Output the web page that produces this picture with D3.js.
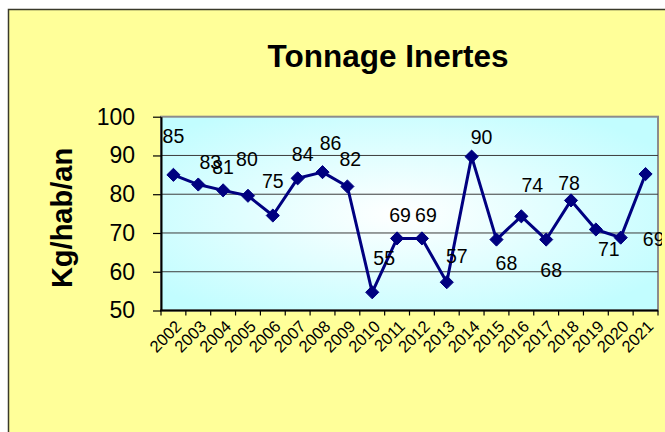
<!DOCTYPE html>
<html>
<head>
<meta charset="utf-8">
<script src="https://cdn.jsdelivr.net/npm/d3@7"></script>
<style>
	body{margin:0;background:#fff;}
	svg{display:block;font-family:"Liberation Sans", Arial, sans-serif;}
</style>
</head>
<body>
<svg id="chart" width="665" height="432"></svg>
<script>
// data
var years = ["2002","2003","2004","2005","2006","2007","2008","2009","2010","2011",
	"2012","2013","2014","2015","2016","2017","2018","2019","2020","2021"];
var tonnage = [85, 82.5, 81, 79.6, 74.5, 84.1, 85.7, 82, 54.7, 68.6,
	68.6, 57.3, 89.7, 68.3, 74.3, 68.3, 78.4, 70.9, 68.8, 85.2];
var pointLabels = ["85","83","81","80","75","84","86","82","55","69",
	"69","57","90","68","74","68","78","71","69",""];
var yTicks = [50, 60, 70, 80, 90, 100];

// where each label sits from its point (px), the labels were moved by hand in the original
var labelDx = [0, 12, 0, -1, 0, 5, 8, 3, 12, 3, 4, 10, 10, 10, 11, 5, -2, 13, 33, 0];
var labelDy = [-32, -16, -16, -30, -28, -17, -22, -20, -27, -16, -16, -19, -13, 30, -24, 37, -10, 27, 8, 0];

var svg = d3.select("#chart");
var plot = {left:161, right:658, top:116.7, bottom:310.5};

// chart area
svg.append("rect")
	.attr("x", 8.5).attr("y", 9.5)
	.attr("width", 700).attr("height", 500)
	.attr("fill", "#ffff99")
	.attr("stroke", "#3a3a2a")
	.attr("stroke-width", 1.5);

var defs = svg.append("defs");
var grad = defs.append("radialGradient")
	.attr("id", "plotFill")
	.attr("cx", "48%").attr("cy", "50%").attr("r", "62%");
grad.append("stop").attr("offset", "0%").attr("stop-color", "#ffffff");
grad.append("stop").attr("offset", "100%").attr("stop-color", "#c2fdff");
// the last label is cut at the chart edge in the original
defs.append("clipPath").attr("id", "edge")
	.append("rect").attr("x", 0).attr("y", 0).attr("width", 662).attr("height", 432);

var x = d3.scaleBand().domain(years).range([plot.left, plot.right]);
var y = d3.scaleLinear().domain([50, 100]).range([plot.bottom, plot.top]);

svg.append("rect")
	.attr("x", plot.left).attr("y", plot.top)
	.attr("width", plot.right - plot.left)
	.attr("height", plot.bottom - plot.top)
	.attr("fill", "url(#plotFill)")
	.attr("stroke", "#8c8c8c")
	.attr("stroke-width", 2);

// gridlines
svg.append("g").selectAll("line")
	.data(yTicks.filter(function(d){return d > 50 && d < 100;}))
	.enter().append("line")
	.attr("x1", plot.left).attr("x2", plot.right)
	.attr("y1", function(d){return y(d);})
	.attr("y2", function(d){return y(d);})
	.attr("stroke", "#3c3c3c")
	.attr("stroke-width", 1);

// y axis
var yAxis = svg.append("g")
	.attr("transform", "translate(" + plot.left + ",0)")
	.call(d3.axisLeft(y).tickValues(yTicks).tickSize(8).tickPadding(18).tickSizeOuter(0));
yAxis.select(".domain").attr("stroke", "#000").attr("stroke-width", 2);
yAxis.selectAll(".tick line").attr("stroke", "#000").attr("stroke-width", 1.2);
yAxis.selectAll("text")
	.attr("font-size", 23)
	.attr("fill", "#000")
	.attr("font-family", "Liberation Sans, Arial, sans-serif");

// x axis, ticks between the categories
var xAxis = svg.append("g")
	.attr("transform", "translate(0," + plot.bottom + ")");
xAxis.append("line")
	.attr("x1", plot.left - 1).attr("x2", plot.right)
	.attr("stroke", "#000").attr("stroke-width", 2);
xAxis.selectAll("line.tk")
	.data(years.concat(["end"]))
	.enter().append("line")
	.attr("class", "tk")
	.attr("x1", function(d, i){return plot.left + i * x.step();})
	.attr("x2", function(d, i){return plot.left + i * x.step();})
	.attr("y1", 0).attr("y2", 5)
	.attr("stroke", "#000").attr("stroke-width", 1.2);
xAxis.selectAll("text")
	.data(years)
	.enter().append("text")
	.attr("transform", function(d){
		return "translate(" + (x(d) + x.bandwidth() / 2 + 9) + ",17) rotate(-45)";
	})
	.attr("text-anchor", "end")
	.attr("font-size", 16.5)
	.attr("fill", "#000")
	.text(function(d){return d;});

// series
var pts = years.map(function(yr, i){
	return {year: yr, value: tonnage[i], label: pointLabels[i], dx: labelDx[i], dy: labelDy[i]};
});
var cx = function(d){return x(d.year) + x.bandwidth() / 2;};

svg.append("path")
	.datum(pts)
	.attr("fill", "none")
	.attr("stroke", "#000080")
	.attr("stroke-width", 3)
	.attr("stroke-linejoin", "round")
	.attr("d", d3.line().x(cx).y(function(d){return y(d.value);}));

svg.append("g").selectAll("path")
	.data(pts)
	.enter().append("path")
	.attr("transform", function(d){return "translate(" + cx(d) + "," + y(d.value) + ")";})
	.attr("d", d3.symbol().type(d3.symbolDiamond2).size(110))
	.attr("fill", "#000080")
	.attr("stroke", "#000080")
	.attr("stroke-width", 1);

svg.append("g")
	.attr("clip-path", "url(#edge)")
	.selectAll("text")
	.data(pts)
	.enter().append("text")
	.attr("x", function(d){return cx(d) + d.dx;})
	.attr("y", function(d){return y(d.value) + d.dy;})
	.attr("text-anchor", "middle")
	.attr("font-size", 19.5)
	.attr("fill", "#000")
	.text(function(d){return d.label;});

// titles
svg.append("text")
	.attr("x", 388).attr("y", 66.5)
	.attr("text-anchor", "middle")
	.attr("font-size", 31.5)
	.attr("font-weight", "bold")
	.text("Tonnage Inertes");

svg.append("text")
	.attr("transform", "translate(71.5,218) rotate(-90)")
	.attr("text-anchor", "middle")
	.attr("font-size", 29)
	.attr("font-weight", "bold")
	.text("Kg/hab/an");
</script>
</body>
</html>
